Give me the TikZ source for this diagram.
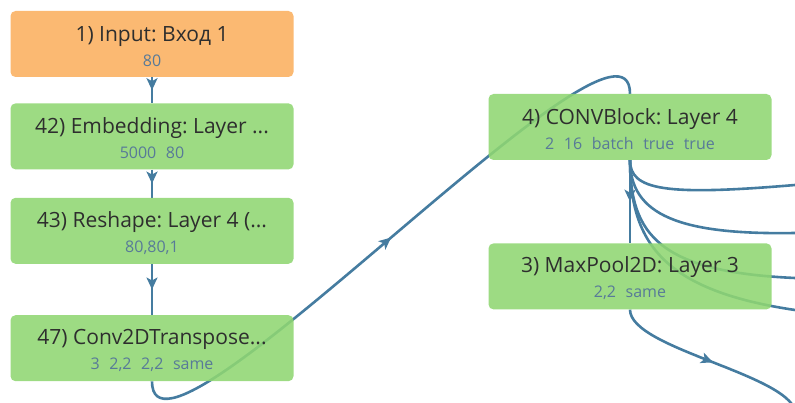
\documentclass[tikz,border=0pt]{standalone}
\usepackage{fontspec}
\setmainfont{Open Sans}
\usetikzlibrary{positioning, arrows.meta, decorations.markings, backgrounds}

\definecolor{layergreen}{HTML}{8FD672}
\definecolor{inputorange}{HTML}{FAAF5E}
\definecolor{flowblue}{HTML}{457CA0}
\definecolor{argblue}{HTML}{587A98}
\definecolor{titlegray}{HTML}{2E2E2E}

\frenchspacing
\newcommand{\argsep}{\hspace{0.6em}}
\newcommand{\args}[1]{{\fontsize{16}{18}\selectfont\color{argblue}#1}}

\begin{document}
\begin{tikzpicture}[
  x=1pt, y=-1pt,
  layer/.style={rectangle, rounded corners=5pt, fill=layergreen, fill opacity=0.88,
    text opacity=1, text=titlegray, minimum width=283pt, minimum height=66pt,
    inner sep=0pt, align=center, font=\fontsize{21}{24}\selectfont\frenchspacing},
  input/.style={layer, fill=inputorange},
  flow/.style={draw=flowblue, line width=2.6pt},
  midarrow/.style={postaction={decorate}, decoration={markings,
    mark=at position 0.5 with {\arrow[flowblue]{Stealth[length=12pt, width=11pt, inset=3pt]}}}}
]
\useasboundingbox (0,0) rectangle (795,403);

% left column
\node[input] (n1) at (152,44) {\rule{0pt}{20pt}1) Input: Вход 1\\[1pt]\args{80}};
\node[layer, below=26pt of n1] (n42) {\rule{0pt}{20pt}42) Embedding: Layer ...\\[1pt]\args{5000\argsep 80}};
\node[layer, below=28pt of n42] (n43) {\rule{0pt}{20pt}43) Reshape: Layer 4 (...\\[1pt]\args{80,80,1}};
\node[layer, below=51pt of n43] (n47) {\rule{0pt}{20pt}47) Conv2DTranspose...\\[1pt]\args{3\argsep 2,2\argsep 2,2\argsep same}};

% right column
\node[layer] (n4) at (630,127) {\rule{0pt}{20pt}4) CONVBlock: Layer 4\\[1pt]\args{2\argsep 16\argsep batch\argsep true\argsep true}};
\node[layer, below=83pt of n4] (n3) {\rule{0pt}{20pt}3) MaxPool2D: Layer 3\\[1pt]\args{2,2\argsep same}};

% loose ends of edges leaving the frame
\coordinate (outA) at (795,185);
\coordinate (outB) at (795,233);
\coordinate (outC) at (795,278);
\coordinate (outD) at (795,310);
\coordinate (outE) at (796,415);

\begin{scope}[on background layer]
  \clip (0,0) rectangle (795,403);
  \draw[flow, midarrow] (n1.south) -- (n42.north);
  \draw[flow, midarrow] (n42.south) -- (n43.north);
  \draw[flow, midarrow] (n43.south) -- (n47.north);
  \draw[flow, midarrow] (n47.south) .. controls +(0,118) and +(0,-118) .. (n4.north);
  \draw[flow, midarrow] (n4.south) -- (n3.north);
  \draw[flow] (n4.south) .. controls +(0,30) and (665,196) .. (outA);
  \draw[flow] (n4.south) .. controls +(0,55) and (680,235) .. (outB);
  \draw[flow] (n4.south) .. controls +(0,75) and (660,272) .. (outC);
  \draw[flow] (n4.south) .. controls +(0,80) and (660,290) .. (outD);
  \draw[flow, midarrow] (n3.south) .. controls +(0,40) and +(0,-40) .. (outE);
\end{scope}
\end{tikzpicture}
\end{document}
